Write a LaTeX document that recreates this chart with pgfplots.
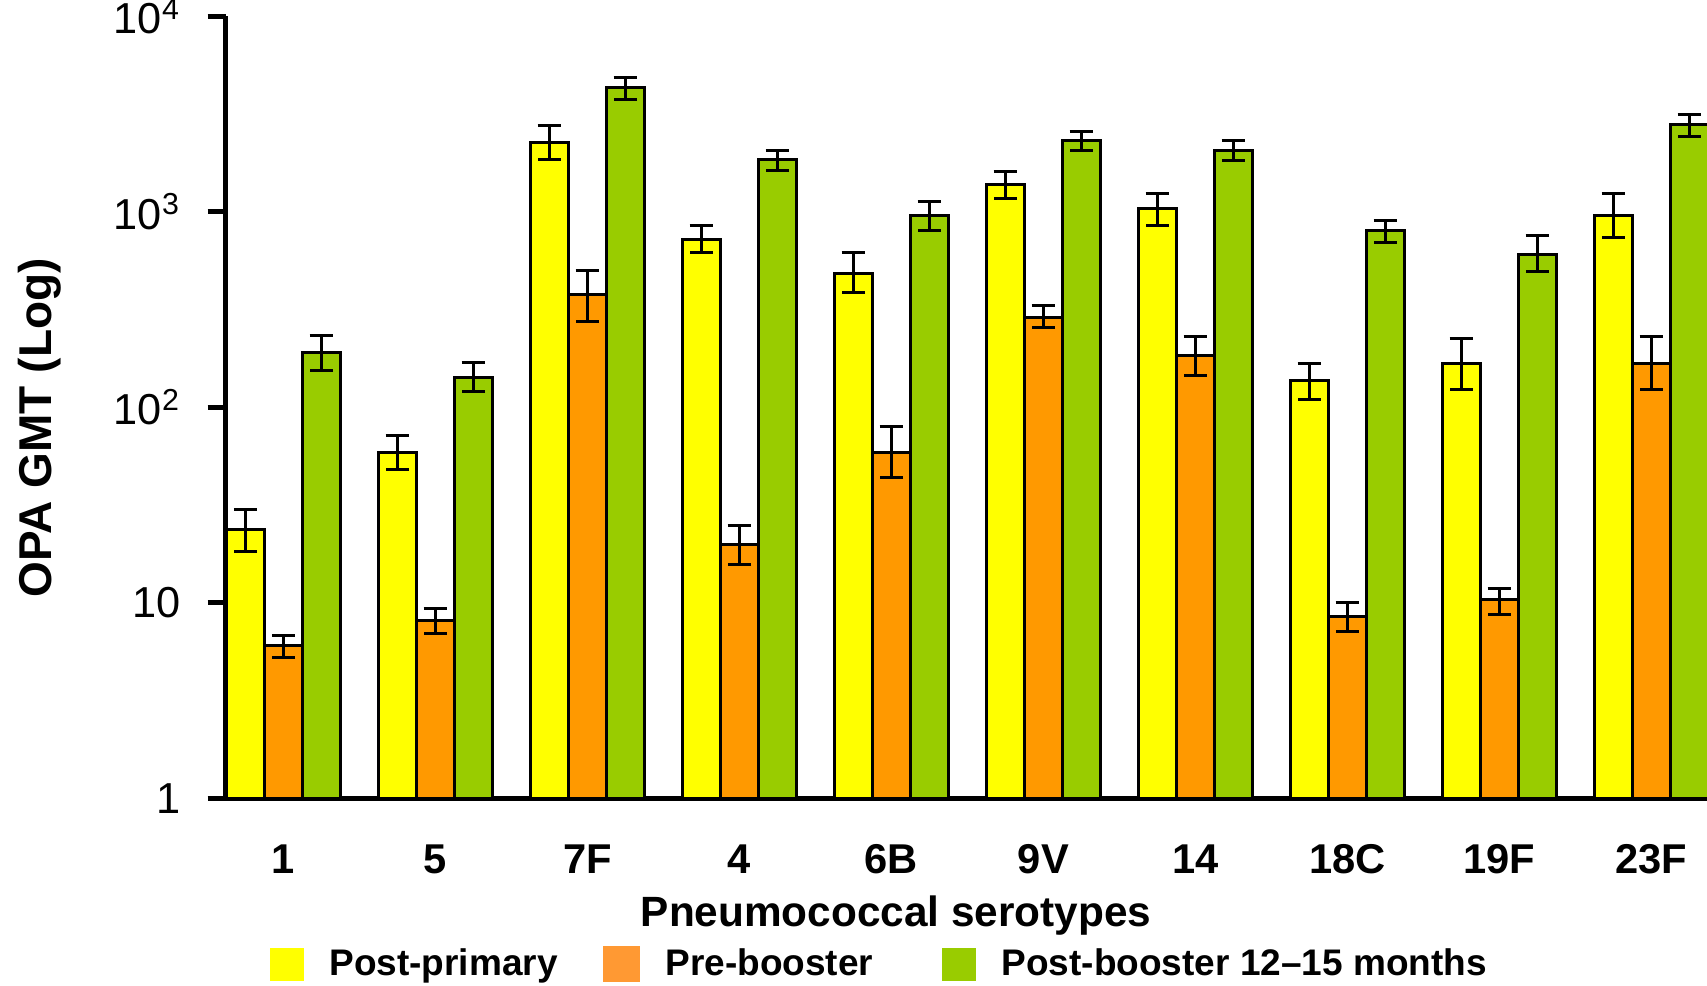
\documentclass[border=0pt]{standalone}
\usepackage{fontspec}
\setmainfont{Liberation Sans}
\usepackage{pgfplots}
\usepackage{pgfplotstable}
\pgfplotsset{compat=1.18}

\definecolor{ppyellow}{HTML}{FFFF00}
\definecolor{pborange}{HTML}{FF9900}
\definecolor{legorange}{HTML}{FF9933}
\definecolor{pbgreen}{HTML}{99CC00}

% x = serotype index, y = GMT, ep/em = error up/down
\pgfplotstableread{
x y ep em
0 23.8 6.1 5.4
1 59 13 10.7
2 2254 503 397
3 721 130 99
4 483 138 98
5 1387 213 220
6 1041 195 190
7 137.7 30.3 28.1
8 168 56 45
9 955 281 217
}\postprimary
\pgfplotstableread{
x y ep em
0 6.04 0.76 0.78
1 8.09 1.24 1.12
2 375.6 124.4 99.6
3 19.9 5.1 4.1
4 58.8 21.2 14.8
5 288 45 31
6 183.6 47.4 37.6
7 8.47 1.53 1.34
8 10.35 1.55 1.65
9 168 63 45
}\prebooster
\pgfplotstableread{
x y ep em
0 190 42 35
1 142.6 26.4 22.6
2 4335 530 560
3 1845 225 208
4 955 180 152
5 2306 284 250
6 2056 250 220
7 803 98 106
8 608 152 110
9 2805 345 373
}\postbooster

\begin{document}
\begin{tikzpicture}
\useasboundingbox (0,0) rectangle (512.1pt,295.5pt);
\begin{axis}[
    at={(67.7pt,56pt)}, anchor=south west,
    scale only axis, width=445pt, height=234.6pt,
    ymode=log, ymin=1, ymax=10000,
    xmin=-0.38, xmax=9.38,
    ybar=0pt, bar width=0.25,
    axis x line*=bottom, axis y line*=left,
    axis line style={line width=1.5pt, -},
    xtick={0,...,9},
    xticklabels={1,5,7F,4,6B,9V,14,18C,19F,23F},
    xtick style={draw=none},
    xticklabel style={font=\bfseries\fontsize{12.5}{15}\selectfont, yshift=-5pt},
    ytick={1,10,100,1000,10000},
    yticklabels={1,10,10\textsuperscript{2},10\textsuperscript{3},10\textsuperscript{4}},
    yminorticks=false,
    tick align=outside,
    major tick length=5.4pt,
    ytick style={line width=1.5pt, black},
    yticklabel style={font=\fontsize{13}{15}\selectfont, xshift=-4.6pt},
    xlabel={Pneumococcal serotypes},
    ylabel={OPA GMT (Log)},
    every axis x label/.style={at={(axis description cs:0.452,-0.150)}, anchor=center,
        font=\bfseries\fontsize{12.7}{15}\selectfont},
    every axis y label/.style={at={(axis description cs:-0.1252,0.474)}, rotate=90, anchor=center,
        font=\bfseries\fontsize{13.8}{16}\selectfont},
    legend columns=3,
    legend style={at={(0.4423,-0.212)}, anchor=center, draw=none, fill=none,
        font=\bfseries\fontsize{11.1}{13}\selectfont,
        /tikz/every odd column/.style={column sep=5.6pt},
        /tikz/column 2/.style={column sep=11.7pt},
        /tikz/column 4/.style={column sep=18.7pt}},
    legend image code/.code={\fill[#1, draw=none] (0pt,-4.95pt) rectangle (10.2pt,4.95pt);},
    error bars/y dir=both,
    error bars/y explicit,
    error bars/error bar style={line width=0.9pt, black},
    error bars/error mark options={rotate=90, mark size=3.5pt, line width=0.9pt, black},
]
\addplot[fill=ppyellow, draw=black, line width=0.9pt]
    table[x=x, y=y, y error plus=ep, y error minus=em]{\postprimary};
\addlegendentry{Post-primary}
\addplot[fill=pborange, draw=black, line width=0.9pt,
    legend image code/.code={\fill[legorange] (0pt,-4.95pt) rectangle (10.2pt,4.95pt);}]
    table[x=x, y=y, y error plus=ep, y error minus=em]{\prebooster};
\addlegendentry{Pre-booster}
\addplot[fill=pbgreen, draw=black, line width=0.9pt]
    table[x=x, y=y, y error plus=ep, y error minus=em]{\postbooster};
\addlegendentry{Post-booster 12--15 months}
\end{axis}
\end{tikzpicture}
\end{document}
